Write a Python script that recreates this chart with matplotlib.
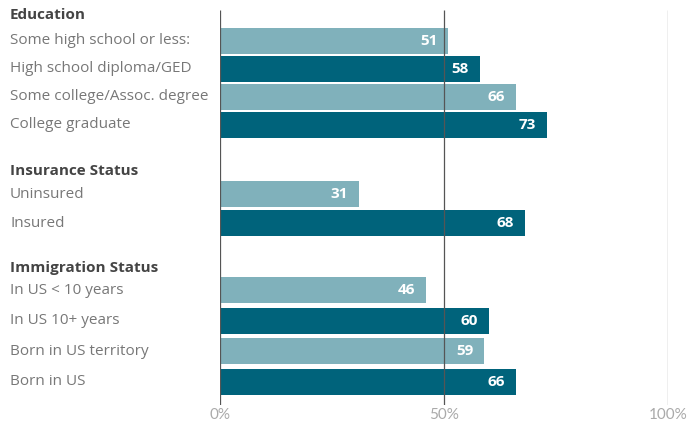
import matplotlib.pyplot as plt

# Datos por grupo
grupos = ["Education", "Insurance Status", "Immigration Status"]
categorias = [
    ["Some high school or less:", "High school diploma/GED",
     "Some college/Assoc. degree", "College graduate"],
    ["Uninsured", "Insured"],
    ["In US < 10 years", "In US 10+ years", "Born in US territory", "Born in US"],
]
valores = [
    [51, 58, 66, 73],
    [31, 68],
    [46, 60, 59, 66],
]

color_claro = "#80b1bb"
color_oscuro = "#00637b"

# Posiciones verticales (en pixeles de la figura) de cada grupo
inicio_grupo = [41, 194, 290]
paso_grupo = [28, 29, 30.5]
y_titulos = [15, 171, 268]
alto_barra = 26

W, H = 694, 423
fig = plt.figure(figsize=(W / 100, H / 100), dpi=100)
ax = fig.add_axes([220 / W, (H - 405) / H, 448 / W, (405 - 8) / H])
ax.set_xlim(0, 100)
ax.set_ylim(405, 8)
ax.axis("off")

fuente = "Open Sans"

for g, nombre in enumerate(grupos):
    y0 = inicio_grupo[g]
    paso = paso_grupo[g]
    fig.text(10 / W, 1 - y_titulos[g] / H, nombre, fontsize=11, fontweight="bold",
             color="#444444", family=fuente, va="center", ha="left")
    for i, (cat, v) in enumerate(zip(categorias[g], valores[g])):
        y = y0 + i * paso
        color = color_claro if i % 2 == 0 else color_oscuro
        ax.barh(y, v, height=alto_barra, color=color, zorder=1)
        ax.annotate(str(v), (v, y), xytext=(-8, 0), textcoords="offset points",
                    ha="right", va="center", color="white", fontsize=11,
                    fontweight="bold", family=fuente, zorder=3)
        fig.text(10 / W, 1 - y / H, cat, fontsize=11, color="#777777",
                 family=fuente, va="center", ha="left")

# Lineas de referencia
ax.vlines([0, 50], 10, 405, color="#555555", linewidth=0.9, zorder=2)
ax.vlines([100], 10, 405, color="#b0b0b0", linewidth=1.0, zorder=2)

for x, t in zip([0, 50, 100], ["0%", "50%", "100%"]):
    ax.text(x, 415, t, ha="center", va="center", color="#aaaaaa",
            fontsize=11, family="Lato")

fig.savefig("out.png", dpi=100)
